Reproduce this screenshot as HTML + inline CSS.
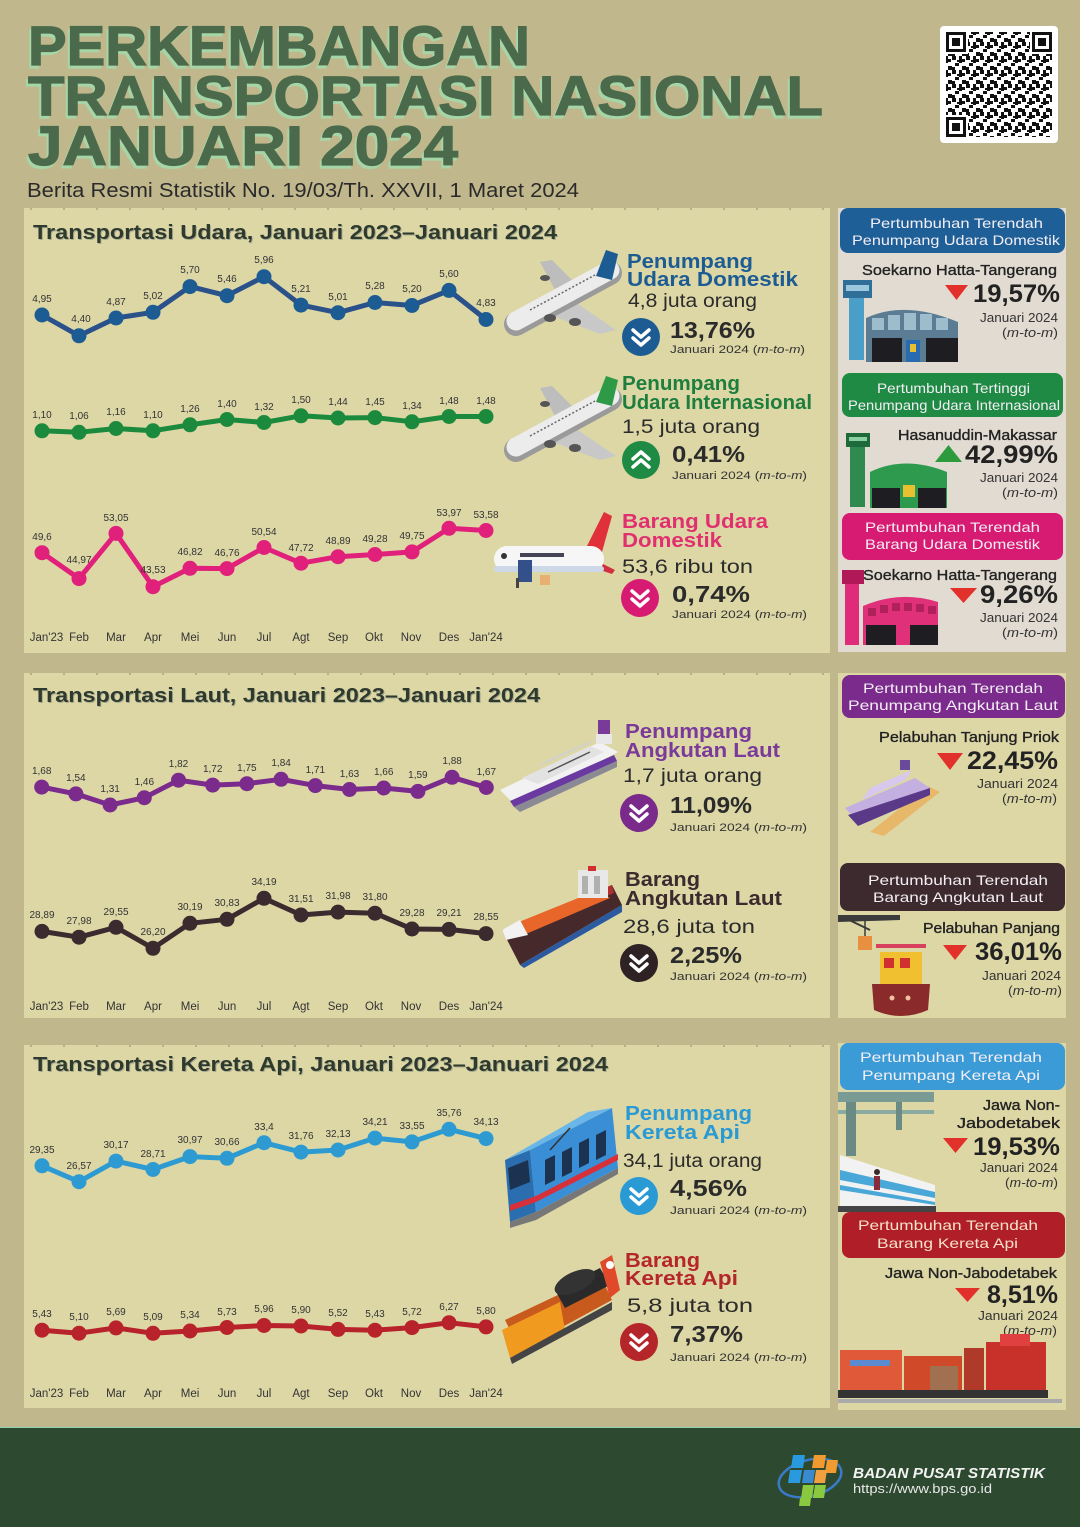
<!DOCTYPE html>
<html><head><meta charset="utf-8"><style>
html,body{margin:0;padding:0;background:#c0b88c;}
svg{display:block;font-family:"Liberation Sans",sans-serif;}
</style></head><body>
<svg width="1080" height="1527" viewBox="0 0 1080 1527" xmlns="http://www.w3.org/2000/svg">
<defs>
<marker id="mB" markerUnits="userSpaceOnUse" markerWidth="18" markerHeight="18" refX="9" refY="9"><circle cx="9" cy="9" r="7.5" fill="#1d5c93"/></marker>
<marker id="mG" markerUnits="userSpaceOnUse" markerWidth="18" markerHeight="18" refX="9" refY="9"><circle cx="9" cy="9" r="7.5" fill="#1b8a3c"/></marker>
<marker id="mP" markerUnits="userSpaceOnUse" markerWidth="18" markerHeight="18" refX="9" refY="9"><circle cx="9" cy="9" r="7.5" fill="#e0207a"/></marker>
<marker id="mV" markerUnits="userSpaceOnUse" markerWidth="18" markerHeight="18" refX="9" refY="9"><circle cx="9" cy="9" r="7.5" fill="#7a2b8c"/></marker>
<marker id="mD" markerUnits="userSpaceOnUse" markerWidth="18" markerHeight="18" refX="9" refY="9"><circle cx="9" cy="9" r="7.5" fill="#3b2b2e"/></marker>
<marker id="mL" markerUnits="userSpaceOnUse" markerWidth="18" markerHeight="18" refX="9" refY="9"><circle cx="9" cy="9" r="7.5" fill="#2d9bd2"/></marker>
<marker id="mR" markerUnits="userSpaceOnUse" markerWidth="18" markerHeight="18" refX="9" refY="9"><circle cx="9" cy="9" r="7.5" fill="#b8222b"/></marker>
<pattern id="qr" width="14" height="14" patternUnits="userSpaceOnUse">
<rect x="0" y="0" width="4" height="4" fill="#111"/><rect x="7" y="0" width="3" height="7" fill="#111"/><rect x="3" y="7" width="4" height="3" fill="#111"/><rect x="10" y="10" width="4" height="4" fill="#111"/><rect x="0" y="11" width="3" height="3" fill="#111"/><rect x="10" y="3" width="3" height="3" fill="#111"/><rect x="5" y="4" width="2" height="2" fill="#111"/></pattern>
</defs>

<rect x="0" y="0" width="1080" height="1527" fill="#c0b88c"/>

<!-- Title -->
<g font-weight="bold" font-size="56">
<g fill="#a6d6a8" stroke="#a6d6a8" stroke-width="1.2" transform="translate(-2,3)">
<text x="28" y="65" textLength="502" lengthAdjust="spacingAndGlyphs">PERKEMBANGAN</text>
<text x="28" y="115" textLength="795" lengthAdjust="spacingAndGlyphs">TRANSPORTASI NASIONAL</text>
<text x="28" y="165" textLength="430" lengthAdjust="spacingAndGlyphs">JANUARI 2024</text>
</g>
<g fill="#4b6a4b" stroke="#4b6a4b" stroke-width="1.2">
<text x="28" y="65" textLength="502" lengthAdjust="spacingAndGlyphs">PERKEMBANGAN</text>
<text x="28" y="115" textLength="795" lengthAdjust="spacingAndGlyphs">TRANSPORTASI NASIONAL</text>
<text x="28" y="165" textLength="430" lengthAdjust="spacingAndGlyphs">JANUARI 2024</text>
</g>
</g>
<text x="27" y="197" font-size="20" fill="#2a2a2a" textLength="552" lengthAdjust="spacingAndGlyphs">Berita Resmi Statistik No. 19/03/Th. XXVII, 1 Maret 2024</text>

<!-- QR -->
<rect x="940" y="26" width="118" height="117" rx="4" fill="#fff"/>
<rect x="946" y="32" width="106" height="105" fill="url(#qr)"/>
<g fill="#111">
<rect x="946" y="32" width="22" height="22" fill="#fff"/><rect x="946" y="32" width="20" height="20"/><rect x="949" y="35" width="14" height="14" fill="#fff"/><rect x="952" y="38" width="8" height="8"/>
<rect x="1030" y="32" width="22" height="22" fill="#fff"/><rect x="1032" y="32" width="20" height="20"/><rect x="1035" y="35" width="14" height="14" fill="#fff"/><rect x="1038" y="38" width="8" height="8"/>
<rect x="946" y="115" width="22" height="22" fill="#fff"/><rect x="946" y="117" width="20" height="20"/><rect x="949" y="120" width="14" height="14" fill="#fff"/><rect x="952" y="123" width="8" height="8"/>
</g>

<!-- Panels -->
<rect x="24" y="208" width="806" height="445" fill="#ddd7a6"/>
<rect x="24" y="673" width="806" height="345" fill="#ddd7a6"/>
<rect x="24" y="1045" width="806" height="363" fill="#ddd7a6"/>
<rect x="838" y="208" width="228" height="444" fill="#e2dbd2"/>
<rect x="838" y="673" width="228" height="345" fill="#ddd7a6"/>
<rect x="838" y="1043" width="228" height="367" fill="#ddd7a6"/>
<g stroke="#a9a383" stroke-width="1.5" stroke-dasharray="2 31">
<line x1="30" y1="209" x2="830" y2="209"/><line x1="30" y1="674" x2="830" y2="674"/><line x1="30" y1="1046" x2="830" y2="1046"/>
</g>

<!-- Chart titles -->
<g font-weight="bold" font-size="20">
<text x="34" y="240" fill="#a8ab8e" textLength="524" lengthAdjust="spacingAndGlyphs">Transportasi Udara, Januari 2023–Januari 2024</text>
<text x="33" y="239" fill="#2f3a2f" textLength="524" lengthAdjust="spacingAndGlyphs">Transportasi Udara, Januari 2023–Januari 2024</text>
<text x="34" y="703" fill="#a8ab8e" textLength="507" lengthAdjust="spacingAndGlyphs">Transportasi Laut, Januari 2023–Januari 2024</text>
<text x="33" y="702" fill="#2f3a2f" textLength="507" lengthAdjust="spacingAndGlyphs">Transportasi Laut, Januari 2023–Januari 2024</text>
<text x="34" y="1072" fill="#a8ab8e" textLength="575" lengthAdjust="spacingAndGlyphs">Transportasi Kereta Api, Januari 2023–Januari 2024</text>
<text x="33" y="1071" fill="#2f3a2f" textLength="575" lengthAdjust="spacingAndGlyphs">Transportasi Kereta Api, Januari 2023–Januari 2024</text>
</g>

<!-- Series lines -->
<g fill="none" stroke-width="5" stroke-linejoin="round">
<polyline stroke="#2a5189" marker-start="url(#mB)" marker-mid="url(#mB)" marker-end="url(#mB)" points="42,315 79,335.8 116,318 153,312.3 190,286.6 227,295.7 264,276.7 301,305.1 338,312.7 375,302.5 412,305.5 449,290.4 486,319.5"/>
<polyline stroke="#1b8a3c" marker-start="url(#mG)" marker-mid="url(#mG)" marker-end="url(#mG)" points="42,430.8 79,432.3 116,428.5 153,430.8 190,424.8 227,419.5 264,422.5 301,415.8 338,418 375,417.6 412,421.8 449,416.5 486,416.5"/>
<polyline stroke="#e0207a" marker-start="url(#mP)" marker-mid="url(#mP)" marker-end="url(#mP)" points="42,552.7 79,578.6 116,533.4 153,586.7 190,568.3 227,568.6 264,547.5 301,563.2 338,556.7 375,554.5 412,551.9 449,528.3 486,530.5"/>
<polyline stroke="#7a2b8c" marker-start="url(#mV)" marker-mid="url(#mV)" marker-end="url(#mV)" points="41.7,787.1 75.9,793.9 110.1,805 144.3,797.7 178.5,780.2 212.7,785.1 246.9,783.7 281.1,779.3 315.3,785.6 349.5,789.5 383.7,788 417.9,791.4 452.1,777.3 486.3,787.5"/>
<polyline stroke="#3b2b2e" marker-start="url(#mD)" marker-mid="url(#mD)" marker-end="url(#mD)" points="42,931.4 79,937.2 116,927.3 153,948.3 190,923.3 227,919.3 264,898.3 301,915 338,912.1 375,913.2 412,929 449,929.4 486,933.6"/>
<polyline stroke="#2d9bd2" marker-start="url(#mL)" marker-mid="url(#mL)" marker-end="url(#mL)" points="42,1165.8 79,1181.7 116,1161.1 153,1169.5 190,1156.6 227,1158.3 264,1142.7 301,1152.1 338,1150 375,1138.1 412,1141.9 449,1129.3 486,1138.6"/>
<polyline stroke="#b8222b" marker-start="url(#mR)" marker-mid="url(#mR)" marker-end="url(#mR)" points="42,1330.2 79,1333.2 116,1327.9 153,1333.3 190,1331 227,1327.5 264,1325.5 301,1326 338,1329.4 375,1330.2 412,1327.6 449,1322.7 486,1326.9"/>
</g>

<!-- Data labels -->
<g font-size="10" fill="#333" text-anchor="middle">
<text x="42" y="302">4,95</text><text x="81" y="322">4,40</text><text x="116" y="305">4,87</text><text x="153" y="299">5,02</text><text x="190" y="273">5,70</text><text x="227" y="282">5,46</text><text x="264" y="263">5,96</text><text x="301" y="292">5,21</text><text x="338" y="300">5,01</text><text x="375" y="289">5,28</text><text x="412" y="292">5,20</text><text x="449" y="277">5,60</text><text x="486" y="306">4,83</text>
<text x="42" y="418">1,10</text><text x="79" y="419">1,06</text><text x="116" y="415">1,16</text><text x="153" y="418">1,10</text><text x="190" y="412">1,26</text><text x="227" y="407">1,40</text><text x="264" y="410">1,32</text><text x="301" y="403">1,50</text><text x="338" y="405">1,44</text><text x="375" y="405">1,45</text><text x="412" y="409">1,34</text><text x="449" y="404">1,48</text><text x="486" y="404">1,48</text>
<text x="42" y="540">49,6</text><text x="79" y="563">44,97</text><text x="116" y="521">53,05</text><text x="153" y="573">43,53</text><text x="190" y="555">46,82</text><text x="227" y="556">46,76</text><text x="264" y="535">50,54</text><text x="301" y="551">47,72</text><text x="338" y="544">48,89</text><text x="375" y="542">49,28</text><text x="412" y="539">49,75</text><text x="449" y="516">53,97</text><text x="486" y="518">53,58</text>
<text x="41.7" y="774">1,68</text><text x="75.9" y="781">1,54</text><text x="110.1" y="792">1,31</text><text x="144.3" y="785">1,46</text><text x="178.5" y="767">1,82</text><text x="212.7" y="772">1,72</text><text x="246.9" y="771">1,75</text><text x="281.1" y="766">1,84</text><text x="315.3" y="773">1,71</text><text x="349.5" y="777">1,63</text><text x="383.7" y="775">1,66</text><text x="417.9" y="778">1,59</text><text x="452.1" y="764">1,88</text><text x="486.3" y="775">1,67</text>
<text x="42" y="918">28,89</text><text x="79" y="924">27,98</text><text x="116" y="915">29,55</text><text x="153" y="935">26,20</text><text x="190" y="910">30,19</text><text x="227" y="906">30,83</text><text x="264" y="885">34,19</text><text x="301" y="902">31,51</text><text x="338" y="899">31,98</text><text x="375" y="900">31,80</text><text x="412" y="916">29,28</text><text x="449" y="916">29,21</text><text x="486" y="920">28,55</text>
<text x="42" y="1153">29,35</text><text x="79" y="1169">26,57</text><text x="116" y="1148">30,17</text><text x="153" y="1157">28,71</text><text x="190" y="1143">30,97</text><text x="227" y="1145">30,66</text><text x="264" y="1130">33,4</text><text x="301" y="1139">31,76</text><text x="338" y="1137">32,13</text><text x="375" y="1125">34,21</text><text x="412" y="1129">33,55</text><text x="449" y="1116">35,76</text><text x="486" y="1125">34,13</text>
<text x="42" y="1317">5,43</text><text x="79" y="1320">5,10</text><text x="116" y="1315">5,69</text><text x="153" y="1320">5,09</text><text x="190" y="1318">5,34</text><text x="227" y="1315">5,73</text><text x="264" y="1312">5,96</text><text x="301" y="1313">5,90</text><text x="338" y="1316">5,52</text><text x="375" y="1317">5,43</text><text x="412" y="1315">5,72</text><text x="449" y="1310">6,27</text><text x="486" y="1314">5,80</text>
</g>

<!-- Month labels -->
<g font-size="11.5" fill="#333" text-anchor="middle">
<g>
<text x="46.5" y="641">Jan'23</text><text x="79" y="641">Feb</text><text x="116" y="641">Mar</text><text x="153" y="641">Apr</text><text x="190" y="641">Mei</text><text x="227" y="641">Jun</text><text x="264" y="641">Jul</text><text x="301" y="641">Agt</text><text x="338" y="641">Sep</text><text x="374" y="641">Okt</text><text x="411" y="641">Nov</text><text x="449" y="641">Des</text><text x="486" y="641">Jan'24</text>
</g>
<g transform="translate(0,369)">
<text x="46.5" y="641">Jan'23</text><text x="79" y="641">Feb</text><text x="116" y="641">Mar</text><text x="153" y="641">Apr</text><text x="190" y="641">Mei</text><text x="227" y="641">Jun</text><text x="264" y="641">Jul</text><text x="301" y="641">Agt</text><text x="338" y="641">Sep</text><text x="374" y="641">Okt</text><text x="411" y="641">Nov</text><text x="449" y="641">Des</text><text x="486" y="641">Jan'24</text>
</g>
<g transform="translate(0,756)">
<text x="46.5" y="641">Jan'23</text><text x="79" y="641">Feb</text><text x="116" y="641">Mar</text><text x="153" y="641">Apr</text><text x="190" y="641">Mei</text><text x="227" y="641">Jun</text><text x="264" y="641">Jul</text><text x="301" y="641">Agt</text><text x="338" y="641">Sep</text><text x="374" y="641">Okt</text><text x="411" y="641">Nov</text><text x="449" y="641">Des</text><text x="486" y="641">Jan'24</text>
</g>
</g>

<!-- Plane 1 -->
<g>
<polygon points="545,313 600,334 616,330 572,300" fill="#c8c8c8"/>
<polygon points="556,292 540,262 552,260 578,286" fill="#bdbdbd"/>
<line x1="516" y1="324" x2="610" y2="273" stroke="#9a9a9a" stroke-width="24" stroke-linecap="round"/>
<line x1="516" y1="321" x2="610" y2="270" stroke="#ececec" stroke-width="19" stroke-linecap="round"/>
<line x1="530" y1="310" x2="595" y2="275" stroke="#666" stroke-width="1.5" stroke-dasharray="2 2"/>
<polygon points="596,276 606,250 618,254 612,280" fill="#1d5c93"/>
<ellipse cx="550" cy="318" rx="6" ry="4" fill="#555"/><ellipse cx="575" cy="322" rx="6" ry="4" fill="#555"/>
<ellipse cx="545" cy="278" rx="5" ry="3" fill="#555"/>
</g>
<!-- Plane 2 -->
<g transform="translate(0,126)">
<polygon points="545,313 600,334 616,330 572,300" fill="#c8c8c8"/>
<polygon points="556,292 540,262 552,260 578,286" fill="#bdbdbd"/>
<line x1="516" y1="324" x2="610" y2="273" stroke="#9a9a9a" stroke-width="24" stroke-linecap="round"/>
<line x1="516" y1="321" x2="610" y2="270" stroke="#ececec" stroke-width="19" stroke-linecap="round"/>
<line x1="530" y1="310" x2="595" y2="275" stroke="#666" stroke-width="1.5" stroke-dasharray="2 2"/>
<polygon points="596,276 606,250 618,254 612,280" fill="#2e9a48"/>
<ellipse cx="550" cy="318" rx="6" ry="4" fill="#555"/><ellipse cx="575" cy="322" rx="6" ry="4" fill="#555"/>
<ellipse cx="545" cy="278" rx="5" ry="3" fill="#555"/>
</g>
<!-- Plane 3 cargo -->
<g>
<polygon points="585,550 604,512 612,516 602,552" fill="#e0303a"/>
<polygon points="570,560 612,574 615,570 585,555" fill="#d03040"/>
<rect x="494" y="546" width="110" height="26" rx="13" fill="#f6f6f6"/>
<rect x="494" y="566" width="110" height="6" rx="3" fill="#ccd8e8"/>
<rect x="520" y="553" width="44" height="4" fill="#445"/>
<rect x="518" y="560" width="14" height="22" fill="#33508a"/>
<circle cx="504" cy="556" r="3" fill="#333"/>
<rect x="540" y="575" width="10" height="10" fill="#e8b070"/>
<rect x="516" y="578" width="3" height="10" fill="#444"/>
</g>
<!-- Ship 1 -->
<g>
<polygon points="500,790 600,742 618,752 516,806" fill="#f2f2f2"/>
<polygon points="522,778 590,746 604,752 538,784" fill="#e2e2e2"/>
<polygon points="535,768 588,744 598,738 548,760" fill="#d0d0d0"/>
<line x1="548" y1="772" x2="590" y2="752" stroke="#555" stroke-width="1.5"/>
<rect x="598" y="720" width="12" height="14" fill="#7a3a9a"/>
<rect x="596" y="734" width="16" height="10" fill="#e8e8e8"/>
<polygon points="510,801 614,755 617,761 514,807" fill="#6a3aa0"/>
<polygon points="514,807 617,761 617,767 520,812" fill="#8a8a95"/>
</g>
<!-- Ship 2 -->
<g>
<polygon points="502,930 612,885 622,905 520,965" fill="#45292b"/>
<polygon points="502,930 612,885 614,893 506,940" fill="#b03030"/>
<polygon points="514,924 598,890 610,898 526,934" fill="#e8662a"/>
<polygon points="502,930 520,920 528,935 506,940" fill="#f2f2f2"/>
<rect x="578" y="870" width="30" height="28" fill="#e8e8e8"/>
<rect x="582" y="876" width="6" height="18" fill="#b0b0b0"/><rect x="594" y="876" width="6" height="18" fill="#b0b0b0"/>
<polygon points="520,965 622,905 622,912 524,968" fill="#2c5aa0"/>
<rect x="588" y="866" width="8" height="5" fill="#d03030"/>
</g>
<!-- Train 1 -->
<g>
<polygon points="530,1150 612,1108 618,1168 536,1212" fill="#3a8ed6"/>
<polygon points="505,1160 530,1150 536,1212 510,1222" fill="#2a6eb0"/>
<polygon points="505,1160 530,1150 612,1108 588,1112" fill="#6ab6e8"/>
<polygon points="536,1196 618,1154 618,1160 536,1202" fill="#d8303a"/>
<polygon points="510,1205 536,1196 536,1202 510,1211" fill="#d8303a"/>
<g fill="#1b3350"><polygon points="545,1160 555,1155 555,1180 545,1185"/><polygon points="562,1152 572,1147 572,1172 562,1177"/><polygon points="579,1143 589,1138 589,1163 579,1168"/><polygon points="596,1135 606,1130 606,1155 596,1160"/></g>
<polygon points="508,1168 528,1160 530,1182 510,1190" fill="#1b3350"/>
<line x1="550" y1="1150" x2="570" y2="1128" stroke="#333" stroke-width="1.5"/>
<polygon points="510,1222 536,1212 618,1168 618,1174 536,1220 510,1228" fill="#777"/>
</g>
<!-- Train 2 -->
<g>
<polygon points="505,1320 600,1275 612,1300 520,1350" fill="#c85a1e"/>
<polygon points="502,1330 560,1302 565,1330 510,1358" fill="#f09a20"/>
<polygon points="555,1290 600,1268 610,1285 565,1308" fill="#2a2a2a"/>
<ellipse cx="575" cy="1282" rx="22" ry="10" fill="#333" transform="rotate(-25 575 1282)"/>
<polygon points="600,1262 612,1255 620,1290 610,1298" fill="#e04a2a"/>
<circle cx="610" cy="1265" r="4" fill="#fff"/>
<polygon points="510,1358 612,1302 612,1310 512,1364" fill="#444"/>
</g>

<!-- Right-side block texts -->
<g font-weight="bold" font-size="20">
<text x="627" y="268" fill="#1d5c93" textLength="126" lengthAdjust="spacingAndGlyphs">Penumpang</text>
<text x="627" y="286" fill="#1d5c93" textLength="171" lengthAdjust="spacingAndGlyphs">Udara Domestik</text>
<text x="622" y="390" fill="#1e7e3e" textLength="118" lengthAdjust="spacingAndGlyphs">Penumpang</text>
<text x="622" y="409" fill="#1e7e3e" textLength="190" lengthAdjust="spacingAndGlyphs">Udara Internasional</text>
<text x="622" y="528" fill="#e0306f" textLength="146" lengthAdjust="spacingAndGlyphs">Barang Udara</text>
<text x="622" y="547" fill="#e0306f" textLength="100" lengthAdjust="spacingAndGlyphs">Domestik</text>
<text x="625" y="738" fill="#7a3a9a" textLength="127" lengthAdjust="spacingAndGlyphs">Penumpang</text>
<text x="625" y="757" fill="#7a3a9a" textLength="155" lengthAdjust="spacingAndGlyphs">Angkutan Laut</text>
<text x="625" y="886" fill="#3b2b2e" textLength="75" lengthAdjust="spacingAndGlyphs">Barang</text>
<text x="625" y="905" fill="#3b2b2e" textLength="157" lengthAdjust="spacingAndGlyphs">Angkutan Laut</text>
<text x="625" y="1120" fill="#2a9ad4" textLength="127" lengthAdjust="spacingAndGlyphs">Penumpang</text>
<text x="625" y="1139" fill="#2a9ad4" textLength="115" lengthAdjust="spacingAndGlyphs">Kereta Api</text>
<text x="625" y="1267" fill="#b5262b" textLength="75" lengthAdjust="spacingAndGlyphs">Barang</text>
<text x="625" y="1285" fill="#b5262b" textLength="113" lengthAdjust="spacingAndGlyphs">Kereta Api</text>
</g>
<g font-size="19" fill="#2b2b2b">
<text x="628" y="307" textLength="129" lengthAdjust="spacingAndGlyphs">4,8 juta orang</text>
<text x="622" y="433" textLength="138" lengthAdjust="spacingAndGlyphs">1,5 juta orang</text>
<text x="622" y="573" textLength="131" lengthAdjust="spacingAndGlyphs">53,6 ribu ton</text>
<text x="623" y="782" textLength="139" lengthAdjust="spacingAndGlyphs">1,7 juta orang</text>
<text x="623" y="933" textLength="132" lengthAdjust="spacingAndGlyphs">28,6 juta ton</text>
<text x="623" y="1167" textLength="139" lengthAdjust="spacingAndGlyphs">34,1 juta orang</text>
<text x="627" y="1312" textLength="126" lengthAdjust="spacingAndGlyphs">5,8 juta ton</text>
</g>
<g font-size="23" font-weight="bold" fill="#2b2b2b">
<text x="670" y="338" textLength="85" lengthAdjust="spacingAndGlyphs">13,76%</text>
<text x="672" y="462" textLength="73" lengthAdjust="spacingAndGlyphs">0,41%</text>
<text x="672" y="602" textLength="78" lengthAdjust="spacingAndGlyphs">0,74%</text>
<text x="670" y="813" textLength="82" lengthAdjust="spacingAndGlyphs">11,09%</text>
<text x="670" y="963" textLength="72" lengthAdjust="spacingAndGlyphs">2,25%</text>
<text x="670" y="1196" textLength="77" lengthAdjust="spacingAndGlyphs">4,56%</text>
<text x="670" y="1342" textLength="73" lengthAdjust="spacingAndGlyphs">7,37%</text>
</g>
<g font-size="11" fill="#333">
<text x="670" y="353" textLength="135" lengthAdjust="spacingAndGlyphs">Januari 2024 (<tspan font-style="italic">m-to-m</tspan>)</text>
<text x="672" y="479" textLength="135" lengthAdjust="spacingAndGlyphs">Januari 2024 (<tspan font-style="italic">m-to-m</tspan>)</text>
<text x="672" y="618" textLength="135" lengthAdjust="spacingAndGlyphs">Januari 2024 (<tspan font-style="italic">m-to-m</tspan>)</text>
<text x="670" y="831" textLength="137" lengthAdjust="spacingAndGlyphs">Januari 2024 (<tspan font-style="italic">m-to-m</tspan>)</text>
<text x="670" y="980" textLength="137" lengthAdjust="spacingAndGlyphs">Januari 2024 (<tspan font-style="italic">m-to-m</tspan>)</text>
<text x="670" y="1214" textLength="137" lengthAdjust="spacingAndGlyphs">Januari 2024 (<tspan font-style="italic">m-to-m</tspan>)</text>
<text x="670" y="1361" textLength="137" lengthAdjust="spacingAndGlyphs">Januari 2024 (<tspan font-style="italic">m-to-m</tspan>)</text>
</g>
<!-- icons -->
<g fill="none" stroke="#fff" stroke-width="3.5" stroke-linecap="round" stroke-linejoin="round">
<circle cx="641" cy="337" r="19" fill="#1d5c93" stroke="none"/><polyline points="633,330 641,337 649,330"/><polyline points="633,338 641,345 649,338"/>
<circle cx="641" cy="460" r="19" fill="#1f8a44" stroke="none"/><polyline points="633,467 641,460 649,467"/><polyline points="633,459 641,452 649,459"/>
<circle cx="640" cy="598" r="19" fill="#d81b72" stroke="none"/><polyline points="632,591 640,598 648,591"/><polyline points="632,599 640,606 648,599"/>
<circle cx="639" cy="813" r="19" fill="#7a2a8a" stroke="none"/><polyline points="631,806 639,813 647,806"/><polyline points="631,814 639,821 647,814"/>
<circle cx="639" cy="963" r="19" fill="#2e2224" stroke="none"/><polyline points="631,956 639,963 647,956"/><polyline points="631,964 639,971 647,964"/>
<circle cx="639" cy="1196" r="19" fill="#2a9ad4" stroke="none"/><polyline points="631,1189 639,1196 647,1189"/><polyline points="631,1197 639,1204 647,1197"/>
<circle cx="639" cy="1342" r="19" fill="#b5262b" stroke="none"/><polyline points="631,1335 639,1342 647,1335"/><polyline points="631,1343 639,1350 647,1343"/>
</g>

<!-- Side panel headers -->
<rect x="840" y="208" width="225" height="45" rx="8" fill="#1f5f98"/>
<rect x="842" y="373" width="221" height="44" rx="8" fill="#1f8a44"/>
<rect x="842" y="513" width="221" height="47" rx="8" fill="#d81b72"/>
<rect x="842" y="675" width="223" height="43" rx="8" fill="#7b2b8c"/>
<rect x="840" y="863" width="225" height="48" rx="8" fill="#3d2a2e"/>
<rect x="840" y="1043" width="225" height="47" rx="8" fill="#3b9bd6"/>
<rect x="842" y="1212" width="223" height="46" rx="8" fill="#b01e28"/>
<g font-size="14" fill="#f2eef4">
<text x="870" y="228" textLength="173" lengthAdjust="spacingAndGlyphs">Pertumbuhan Terendah</text>
<text x="852" y="245" textLength="208" lengthAdjust="spacingAndGlyphs">Penumpang Udara Domestik</text>
<text x="877" y="393" textLength="153" lengthAdjust="spacingAndGlyphs">Pertumbuhan Tertinggi</text>
<text x="848" y="410" textLength="212" lengthAdjust="spacingAndGlyphs">Penumpang Udara Internasional</text>
<text x="865" y="532" textLength="175" lengthAdjust="spacingAndGlyphs">Pertumbuhan Terendah</text>
<text x="865" y="549" textLength="175" lengthAdjust="spacingAndGlyphs">Barang Udara Domestik</text>
<text x="863" y="693" textLength="180" lengthAdjust="spacingAndGlyphs">Pertumbuhan Terendah</text>
<text x="848" y="710" textLength="210" lengthAdjust="spacingAndGlyphs">Penumpang Angkutan Laut</text>
<text x="868" y="885" textLength="180" lengthAdjust="spacingAndGlyphs">Pertumbuhan Terendah</text>
<text x="873" y="902" textLength="170" lengthAdjust="spacingAndGlyphs">Barang Angkutan Laut</text>
<text x="860" y="1062" textLength="182" lengthAdjust="spacingAndGlyphs">Pertumbuhan Terendah</text>
<text x="862" y="1080" textLength="178" lengthAdjust="spacingAndGlyphs">Penumpang Kereta Api</text>
<text x="858" y="1230" textLength="180" lengthAdjust="spacingAndGlyphs" fill="#f6e2c8">Pertumbuhan Terendah</text>
<text x="877" y="1248" textLength="141" lengthAdjust="spacingAndGlyphs" fill="#f6e2c8">Barang Kereta Api</text>
</g>
<g font-size="15" fill="#222" stroke="#222" stroke-width="0.35">
<text x="862" y="275" textLength="195" lengthAdjust="spacingAndGlyphs">Soekarno Hatta-Tangerang</text>
<text x="898" y="440" textLength="159" lengthAdjust="spacingAndGlyphs">Hasanuddin-Makassar</text>
<text x="863" y="580" textLength="194" lengthAdjust="spacingAndGlyphs">Soekarno Hatta-Tangerang</text>
<text x="879" y="742" textLength="180" lengthAdjust="spacingAndGlyphs">Pelabuhan Tanjung Priok</text>
<text x="923" y="933" textLength="137" lengthAdjust="spacingAndGlyphs">Pelabuhan Panjang</text>
<text x="983" y="1110" textLength="77" lengthAdjust="spacingAndGlyphs">Jawa Non-</text>
<text x="957" y="1128" textLength="103" lengthAdjust="spacingAndGlyphs">Jabodetabek</text>
<text x="885" y="1278" textLength="172" lengthAdjust="spacingAndGlyphs">Jawa Non-Jabodetabek</text>
</g>
<g font-size="25" font-weight="bold" fill="#222">
<text x="973" y="302" textLength="87" lengthAdjust="spacingAndGlyphs">19,57%</text>
<text x="965" y="463" textLength="93" lengthAdjust="spacingAndGlyphs">42,99%</text>
<text x="980" y="603" textLength="78" lengthAdjust="spacingAndGlyphs">9,26%</text>
<text x="967" y="769" textLength="91" lengthAdjust="spacingAndGlyphs">22,45%</text>
<text x="975" y="960" textLength="87" lengthAdjust="spacingAndGlyphs">36,01%</text>
<text x="973" y="1155" textLength="87" lengthAdjust="spacingAndGlyphs">19,53%</text>
<text x="987" y="1303" textLength="71" lengthAdjust="spacingAndGlyphs">8,51%</text>
</g>
<g font-size="13" fill="#333">
<text x="980" y="322" textLength="78" lengthAdjust="spacingAndGlyphs">Januari 2024</text>
<text x="1002" y="337" textLength="56" lengthAdjust="spacingAndGlyphs">(<tspan font-style="italic">m-to-m</tspan>)</text>
<text x="980" y="482" textLength="78" lengthAdjust="spacingAndGlyphs">Januari 2024</text>
<text x="1002" y="497" textLength="56" lengthAdjust="spacingAndGlyphs">(<tspan font-style="italic">m-to-m</tspan>)</text>
<text x="980" y="622" textLength="78" lengthAdjust="spacingAndGlyphs">Januari 2024</text>
<text x="1002" y="637" textLength="56" lengthAdjust="spacingAndGlyphs">(<tspan font-style="italic">m-to-m</tspan>)</text>
<text x="977" y="788" textLength="81" lengthAdjust="spacingAndGlyphs">Januari 2024</text>
<text x="1002" y="803" textLength="55" lengthAdjust="spacingAndGlyphs">(<tspan font-style="italic">m-to-m</tspan>)</text>
<text x="982" y="980" textLength="79" lengthAdjust="spacingAndGlyphs">Januari 2024</text>
<text x="1008" y="995" textLength="54" lengthAdjust="spacingAndGlyphs">(<tspan font-style="italic">m-to-m</tspan>)</text>
<text x="980" y="1172" textLength="78" lengthAdjust="spacingAndGlyphs">Januari 2024</text>
<text x="1005" y="1187" textLength="53" lengthAdjust="spacingAndGlyphs">(<tspan font-style="italic">m-to-m</tspan>)</text>
<text x="978" y="1320" textLength="80" lengthAdjust="spacingAndGlyphs">Januari 2024</text>
<text x="1003" y="1335" textLength="54" lengthAdjust="spacingAndGlyphs">(<tspan font-style="italic">m-to-m</tspan>)</text>
</g>
<g fill="#e2302b">
<polygon points="945,285 968,285 956.5,300"/>
<polygon points="950,588 977,588 963.5,603"/>
<polygon points="937,753 963,753 950,770"/>
<polygon points="943,945 967,945 955,960"/>
<polygon points="943,1138 968,1138 955.5,1153"/>
<polygon points="955,1288 980,1288 967.5,1302"/>
</g>
<polygon points="935,462 962,462 948.5,445" fill="#2e9a3e"/>

<!-- Airport blue -->
<g>
<rect x="849" y="296" width="15" height="64" fill="#4a9fc8"/>
<rect x="843" y="280" width="29" height="18" fill="#2f6f98"/>
<rect x="846" y="285" width="23" height="6" fill="#9cc8e0"/>
<path d="M866 318 Q905 300 958 322 L958 362 L866 362 Z" fill="#5b7d94"/>
<g fill="#9dbccc"><rect x="872" y="318" width="12" height="12"/><rect x="888" y="315" width="12" height="15"/><rect x="904" y="313" width="12" height="17"/><rect x="920" y="314" width="12" height="16"/><rect x="936" y="318" width="12" height="12"/></g>
<rect x="872" y="338" width="30" height="24" fill="#1e1e22"/>
<rect x="926" y="338" width="32" height="24" fill="#1e1e22"/>
<rect x="906" y="340" width="14" height="22" fill="#2a6ab0"/>
<rect x="910" y="344" width="6" height="8" fill="#e8c030"/>
</g>
<!-- Airport green -->
<g>
<rect x="850" y="445" width="15" height="62" fill="#2e8a4e"/>
<rect x="846" y="433" width="24" height="14" fill="#1e6a3a"/>
<rect x="849" y="437" width="18" height="4" fill="#8ad0a0"/>
<path d="M870 472 Q905 455 947 472 L947 508 L870 508 Z" fill="#2e9a4e"/>
<rect x="872" y="488" width="28" height="20" fill="#1e1e22"/>
<rect x="918" y="488" width="28" height="20" fill="#1e1e22"/>
<rect x="903" y="485" width="12" height="12" fill="#e8c030"/>
</g>
<!-- Airport pink -->
<g>
<rect x="845" y="582" width="14" height="63" fill="#e02a7a"/>
<rect x="842" y="570" width="22" height="14" fill="#b01858"/>
<path d="M863 606 Q900 590 938 602 L938 645 L863 645 Z" fill="#e0307a"/>
<g fill="#b0205a"><rect x="868" y="608" width="8" height="8"/><rect x="880" y="605" width="8" height="8"/><rect x="892" y="603" width="8" height="8"/><rect x="904" y="603" width="8" height="8"/><rect x="916" y="604" width="8" height="8"/><rect x="928" y="606" width="8" height="8"/></g>
<rect x="866" y="625" width="30" height="20" fill="#1e1e22"/>
<rect x="910" y="625" width="28" height="20" fill="#1e1e22"/>
</g>
<!-- Sea side ship -->
<g>
<polygon points="870,832 928,786 940,792 884,836" fill="#e8b86a"/>
<polygon points="845,808 915,778 930,788 858,822" fill="#c4b0e0"/>
<polygon points="848,815 930,788 930,795 858,826" fill="#5a3a88"/>
<polygon points="862,800 905,780 912,770 870,788" fill="#d8c8ee"/>
<rect x="900" y="760" width="10" height="10" fill="#6a4a9a"/>
</g>
<!-- Sea side cargo -->
<g>
<polygon points="838,915 900,915 900,920 838,922" fill="#3a3a3a"/>
<line x1="845" y1="918" x2="870" y2="930" stroke="#3a3a3a" stroke-width="2"/>
<line x1="865" y1="920" x2="865" y2="936" stroke="#3a3a3a" stroke-width="1.5"/>
<rect x="858" y="936" width="14" height="14" fill="#e89040"/>
<rect x="876" y="944" width="50" height="4" fill="#d84060"/>
<rect x="880" y="952" width="42" height="32" fill="#f0c030"/>
<rect x="884" y="958" width="10" height="10" fill="#d03030"/><rect x="900" y="958" width="10" height="10" fill="#d03030"/>
<path d="M872 984 L930 984 L928 1010 Q901 1022 874 1010 Z" fill="#8a2a2a"/>
<circle cx="892" cy="998" r="2.5" fill="#f0c0a0"/><circle cx="908" cy="998" r="2.5" fill="#f0c0a0"/>
</g>
<!-- Rail side bridge & train -->
<g>
<rect x="838" y="1092" width="96" height="10" fill="#7a9a94"/>
<rect x="838" y="1110" width="96" height="4" fill="#8aaaa2"/>
<rect x="846" y="1102" width="10" height="54" fill="#6a8a84"/>
<rect x="896" y="1102" width="6" height="28" fill="#6a8a84"/>
<polygon points="840,1155 935,1185 935,1210 840,1210" fill="#f2f2f2"/>
<polygon points="840,1170 935,1192 935,1198 840,1180" fill="#4aa8d8"/>
<polygon points="840,1185 935,1202 935,1205 840,1190" fill="#4aa8d8"/>
<rect x="874" y="1176" width="6" height="14" fill="#8a2a3a"/>
<circle cx="877" cy="1172" r="3" fill="#3a2a2a"/>
<rect x="838" y="1206" width="98" height="6" fill="#444"/>
</g>
<!-- Rail side freight -->
<g>
<rect x="840" y="1350" width="62" height="40" fill="#e05a3a"/>
<rect x="904" y="1356" width="58" height="34" fill="#d04a2a"/>
<rect x="964" y="1348" width="20" height="42" fill="#b03a2a"/>
<rect x="986" y="1342" width="60" height="48" fill="#c8302a"/>
<rect x="1000" y="1334" width="30" height="12" fill="#e04040"/>
<rect x="930" y="1366" width="28" height="24" fill="#a07050"/>
<rect x="850" y="1360" width="40" height="6" fill="#5a8ad0"/>
<rect x="838" y="1390" width="210" height="8" fill="#333"/>
<rect x="838" y="1399" width="224" height="4" fill="#aaa"/>
</g>

<!-- Footer -->
<rect x="0" y="1427" width="1080" height="100" fill="#2d4a30"/>
<line x1="0" y1="1427.5" x2="1080" y2="1427.5" stroke="#8fd0b0" stroke-width="1"/>
<g>
<ellipse cx="810" cy="1478" rx="32" ry="18" fill="none" stroke="#3a7ac8" stroke-width="2.5" transform="rotate(-15 810 1478)"/>
<polygon points="793,1455 805,1455 803,1468 791,1468" fill="#2a9ae0"/>
<polygon points="790,1470 802,1470 800,1483 788,1483" fill="#2a9ae0"/>
<polygon points="804,1470 815,1470 813,1483 802,1483" fill="#3a8ad0"/>
<polygon points="814,1455 826,1455 824,1468 812,1468" fill="#f09a30"/>
<polygon points="827,1460 838,1460 836,1473 825,1473" fill="#f09a30"/>
<polygon points="816,1470 827,1470 825,1483 814,1483" fill="#f0a040"/>
<polygon points="803,1485 814,1485 812,1498 801,1498" fill="#8ac840"/>
<polygon points="815,1485 826,1485 824,1498 813,1498" fill="#8ac840"/>
<polygon points="800,1498 811,1498 810,1506 799,1506" fill="#8ac840"/>
</g>
<text x="853" y="1478" font-size="14.5" font-weight="bold" font-style="italic" fill="#f2f2f2" textLength="192" lengthAdjust="spacingAndGlyphs">BADAN PUSAT STATISTIK</text>
<text x="853" y="1493" font-size="13" fill="#e8e8e8" textLength="139" lengthAdjust="spacingAndGlyphs">https://www.bps.go.id</text>
</svg>
</body></html>
